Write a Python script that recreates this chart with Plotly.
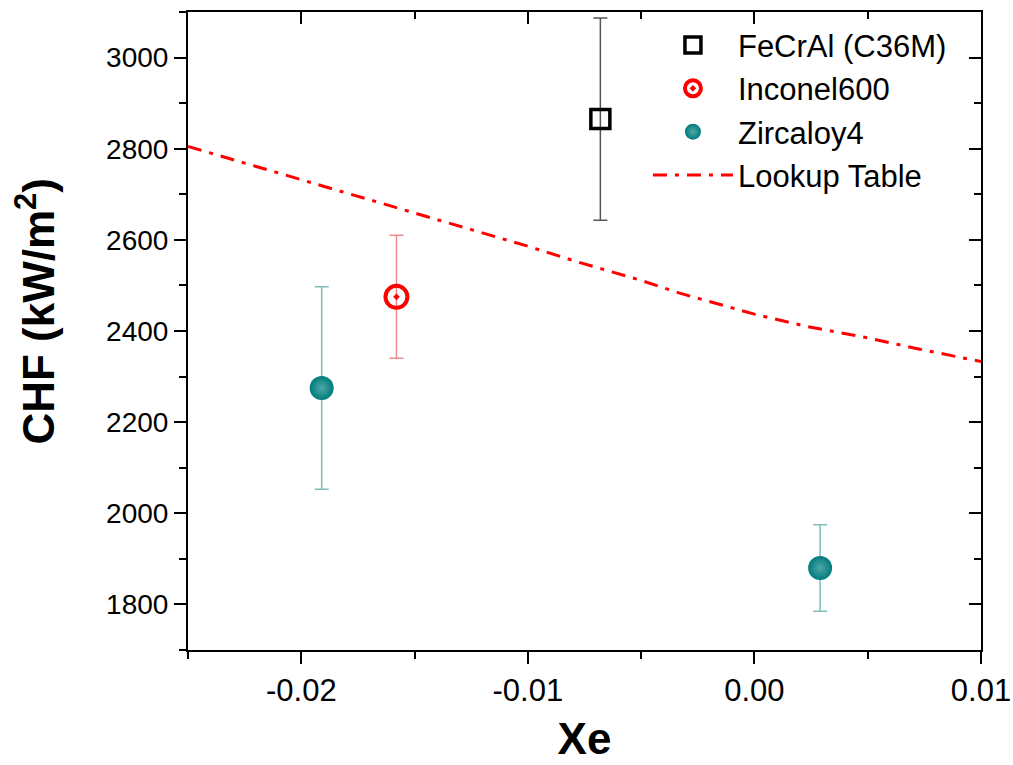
import plotly.graph_objects as go

# ---- data ----
fecral_x = [-0.0068]
fecral_y = [2865]
fecral_err = [222]

inconel_x = [-0.0158]
inconel_y = [2475]
inconel_err = [135]

zirc_x = [-0.0191, 0.0029]
zirc_y = [2275, 1880]
zirc_err = [222, 95]

lookup_x = [-0.025, -0.020, -0.015, -0.010, -0.0077, -0.005, -0.0033, -0.001, 0.0, 0.0023, 0.005, 0.0073, 0.010]
lookup_y = [2805, 2732, 2659, 2586, 2550, 2511, 2483, 2450, 2437, 2410, 2385, 2360, 2333]

xticks = [-0.02, -0.01, 0.00, 0.01]
xticklabels = ["-0.02", "-0.01", "0.00", "0.01"]
yticks = [1800, 2000, 2200, 2400, 2600, 2800, 3000]

fig = go.Figure()

fig.add_trace(go.Scatter(
    x=fecral_x, y=fecral_y, mode="markers", name="FeCrAl (C36M)",
    marker=dict(symbol="square-open", size=19, color="black", line=dict(width=3.5, color="black")),
    error_y=dict(type="data", array=fecral_err, color="#555555", thickness=1.5, width=7),
))
fig.add_trace(go.Scatter(
    x=inconel_x, y=inconel_y, mode="markers", name="Inconel600",
    marker=dict(symbol="circle-open-dot", size=22, color="#ff0000", line=dict(width=4, color="#ff0000")),
    error_y=dict(type="data", array=inconel_err, color="#f08a8a", thickness=1.5, width=7),
))
fig.add_trace(go.Scatter(
    x=zirc_x, y=zirc_y, mode="markers", name="Zircaloy4",
    marker=dict(symbol="circle", size=24, color="#007b7b", line=dict(width=0),
                gradient=dict(type="radial", color="#4fa8a8")),
    error_y=dict(type="data", array=zirc_err, color="#7fbcbc", thickness=1.5, width=7),
))
fig.add_trace(go.Scatter(
    x=lookup_x, y=lookup_y, mode="lines", name="Lookup Table",
    line=dict(color="#ff0000", width=3, dash="14px,8px,4px,8px"),
))
# invisible trace so the mirrored (top/right) axes are drawn
fig.add_trace(go.Scatter(
    x=lookup_x, y=lookup_y, mode="none", xaxis="x2", yaxis="y2",
    showlegend=False, hoverinfo="skip",
))

axis_common = dict(showline=True, linecolor="black", linewidth=2, showgrid=False, zeroline=False)

fig.update_layout(
    width=1013, height=765,
    margin=dict(l=188, r=32, t=12, b=115),
    paper_bgcolor="white", plot_bgcolor="white",
    font=dict(family="Liberation Sans, Arial, sans-serif", color="black"),
    showlegend=True,
    legend=dict(x=0.58, y=0.99, xanchor="left", yanchor="top",
                bgcolor="rgba(0,0,0,0)", font=dict(size=31),
                itemwidth=80, tracegroupgap=0),
    xaxis=dict(**axis_common, range=[-0.025, 0.01], tickvals=xticks, ticktext=xticklabels,
               automargin=False,
               ticks="outside", ticklen=12, tickwidth=2, tickcolor="black",
               tickfont=dict(size=31),
               minor=dict(dtick=0.005, tick0=-0.025, ticks="outside", ticklen=7, tickwidth=2, tickcolor="black"),
               title=dict(text="<b>Xe</b>", font=dict(size=44), standoff=16)),
    yaxis=dict(**axis_common, range=[1700, 3100], tickvals=yticks,
               automargin=False,
               ticks="outside", ticklen=12, tickwidth=2, tickcolor="black",
               tickfont=dict(size=28),
               minor=dict(dtick=100, tick0=1700, ticks="outside", ticklen=7, tickwidth=2, tickcolor="black")),
    xaxis2=dict(**axis_common, overlaying="x", side="top", range=[-0.025, 0.01],
                tickvals=xticks, showticklabels=False, automargin=False,
                ticks="inside", ticklen=12, tickwidth=2, tickcolor="black",
                minor=dict(dtick=0.005, tick0=-0.025, ticks="inside", ticklen=7, tickwidth=2, tickcolor="black")),
    yaxis2=dict(**axis_common, overlaying="y", side="right", range=[1700, 3100],
                tickvals=yticks, showticklabels=False, automargin=False,
                ticks="inside", ticklen=12, tickwidth=2, tickcolor="black",
                minor=dict(dtick=100, tick0=1700, ticks="inside", ticklen=7, tickwidth=2, tickcolor="black")),
    annotations=[dict(
        text="<b>CHF (kW/m<sup>2</sup>)</b>", textangle=-90,
        xref="paper", yref="paper", x=-0.192, y=0.53,
        xanchor="center", yanchor="middle", showarrow=False,
        font=dict(size=44),
    )],
)

fig.write_html("out.html")
